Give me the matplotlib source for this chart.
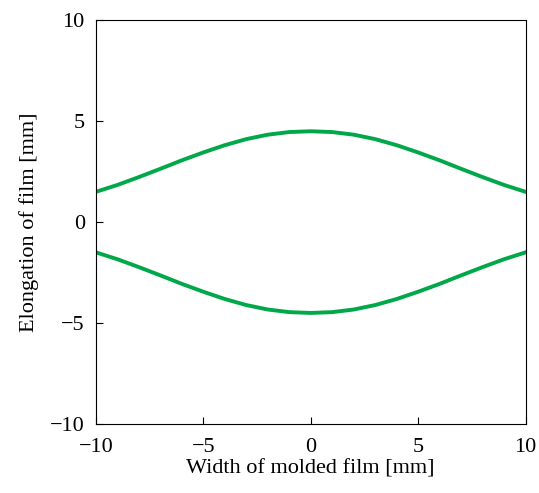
import numpy as np
import matplotlib.pyplot as plt

plt.rcParams['font.family'] = ['Liberation Serif', 'DejaVu Serif']
plt.rcParams['mathtext.fontset'] = 'stix'

# Datos
x = [-10, -9, -8, -7, -6, -5, -4, -3, -2, -1, 0, 1, 2, 3, 4, 5, 6, 7, 8, 9, 10]
y_sup = [1.50, 1.84, 2.23, 2.64, 3.06, 3.45, 3.81, 4.11, 4.33, 4.46, 4.50,
         4.46, 4.33, 4.11, 3.81, 3.45, 3.06, 2.64, 2.23, 1.84, 1.50]
y_inf = [-v for v in y_sup]

fig = plt.figure(figsize=(5.39, 4.93), dpi=100)
ax = fig.add_axes([0.178, 0.14, 0.797, 0.819])

verde = '#00A84A'
ax.plot(x, y_sup, color=verde, linewidth=2.8)
ax.plot(x, y_inf, color=verde, linewidth=2.8)

ax.set_xlim(-10, 10)
ax.set_ylim(-10, 10)
ax.set_xticks([-10, -5, 0, 5, 10])
ax.set_yticks([-10, -5, 0, 5, 10])
ax.tick_params(direction='in', length=5, width=0.8, labelsize=16)
ax.tick_params(axis='x', pad=10)
ax.tick_params(axis='y', pad=8)
for s in ax.spines.values():
    s.set_linewidth(0.8)

ax.set_xlabel("Width of molded film [mm]", fontsize=16, labelpad=2)
ax.set_ylabel("Elongation of film [mm]", fontsize=16, labelpad=8)

plt.savefig("out.png", dpi=100)
